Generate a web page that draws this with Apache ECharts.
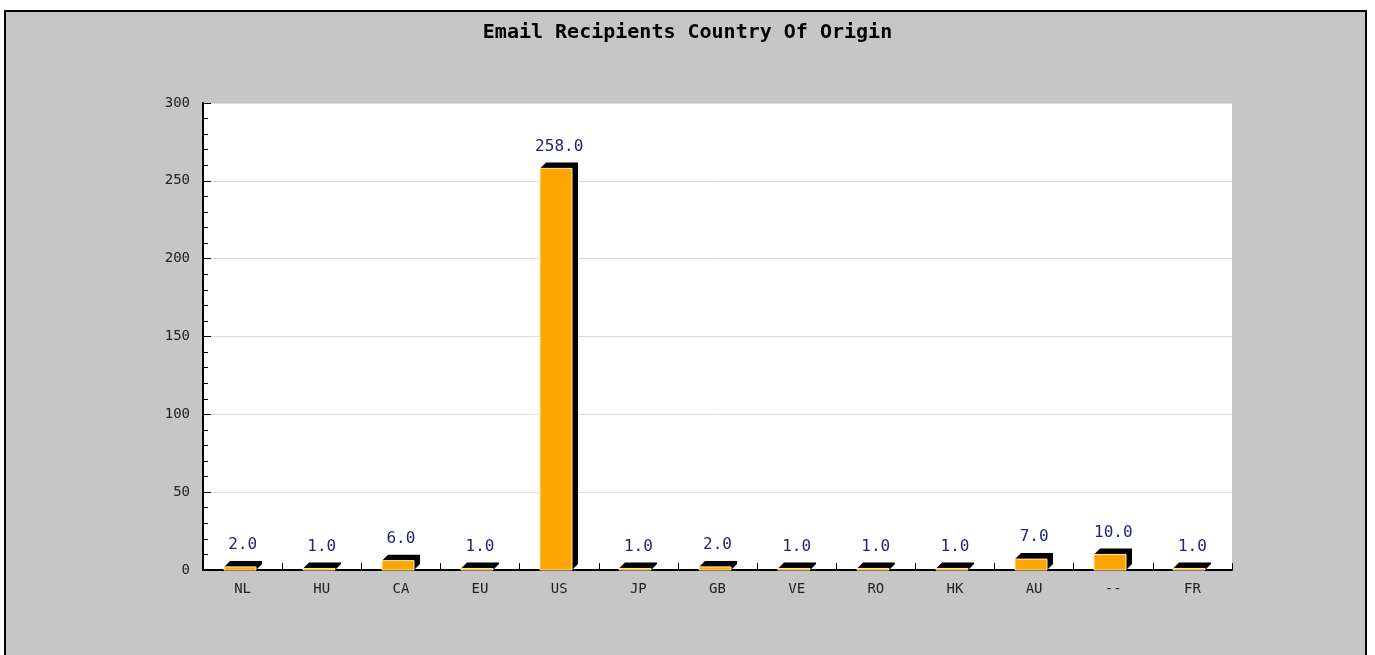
<!DOCTYPE html>
<html>
<head>
<meta charset="utf-8">
<script src="https://cdn.jsdelivr.net/npm/echarts@6/dist/echarts.min.js"></script>
<style>
  html, body { margin: 0; padding: 0; background: #ffffff; }
  #chart { width: 1375px; height: 655px; }
</style>
</head>
<body>
<div id="chart"></div>
<script>
// Email recipients by country code
const countries = ['NL', 'HU', 'CA', 'EU', 'US', 'JP', 'GB', 'VE', 'RO', 'HK', 'AU', '--', 'FR'];
const recipients = [2, 1, 6, 1, 258, 1, 2, 1, 1, 1, 7, 10, 1];
const yTicks = { min: 0, max: 300, step: 50 };

const chart = echarts.init(document.getElementById('chart'), null, { renderer: 'canvas' });

const FRONT_W = 32;   // width of the orange face
const DEPTH = 6;      // size of the black extrusion
const monoFont = '"DejaVu Sans Mono", monospace';

function renderBar(params, api) {
  const idx = api.value(0);
  const val = api.value(1);
  const top = api.coord([idx, val]);
  const base = api.coord([idx, 0]);
  const c = top[0];
  const x0 = Math.round(c - 19);
  const x1 = x0 + FRONT_W;
  const yTop = top[1];
  const yBase = base[1];
  return {
    type: 'group',
    children: [
      {
        type: 'polygon',
        shape: {
          points: [
            [x0, yTop], [x0 + DEPTH, yTop - DEPTH], [x1 + DEPTH, yTop - DEPTH],
            [x1 + DEPTH, yBase - DEPTH], [x1, yBase], [x1, yTop]
          ]
        },
        style: { fill: '#000000' }
      },
      {
        type: 'rect',
        shape: { x: x0, y: yTop, width: FRONT_W, height: yBase - yTop },
        style: { fill: '#ffa500', stroke: '#ffe9a8', lineWidth: 1 }
      },
      {
        type: 'text',
        x: c,
        y: yTop - DEPTH - 16,
        style: {
          text: val.toFixed(1),
          fill: '#23237a',
          font: '16px ' + monoFont,
          align: 'center',
          verticalAlign: 'middle'
        }
      }
    ]
  };
}

chart.setOption({
  backgroundColor: '#ffffff',
  animation: false,
  graphic: [
    {
      type: 'rect',
      z: -10,
      shape: { x: 5, y: 11, width: 1361, height: 660 },
      style: { fill: '#c6c6c6', stroke: '#000000', lineWidth: 2 }
    }
  ],
  title: {
    text: 'Email Recipients Country Of Origin',
    left: 'center',
    top: 18,
    textStyle: { fontFamily: monoFont, fontSize: 20, fontWeight: 'bold', color: '#000000' }
  },
  grid: {
    left: 203, right: 143, top: 103, bottom: 85,
    show: true, backgroundColor: '#ffffff', borderWidth: 0
  },
  xAxis: {
    type: 'category',
    data: countries,
    boundaryGap: true,
    axisLine: { lineStyle: { color: '#000000', width: 2 } },
    axisTick: { show: true, inside: true, length: 7, lineStyle: { color: '#000000' } },
    axisLabel: { color: '#222222', fontFamily: monoFont, fontSize: 14, margin: 12 },
    splitLine: { show: false }
  },
  yAxis: {
    type: 'value',
    min: yTicks.min,
    max: yTicks.max,
    interval: yTicks.step,
    axisLine: { show: true, lineStyle: { color: '#000000', width: 2 } },
    axisTick: { show: true, inside: true, length: 8, lineStyle: { color: '#000000' } },
    minorTick: { show: true, splitNumber: 5, length: 5, lineStyle: { color: '#000000' } },
    axisLabel: { color: '#222222', fontFamily: monoFont, fontSize: 14, margin: 13 },
    splitLine: { show: true, lineStyle: { color: '#dddddd', width: 1 } }
  },
  series: [
    {
      type: 'custom',
      renderItem: renderBar,
      encode: { x: 0, y: 1 },
      data: recipients.map((v, i) => [i, v]),
      clip: false
    }
  ]
});
</script>
</body>
</html>
